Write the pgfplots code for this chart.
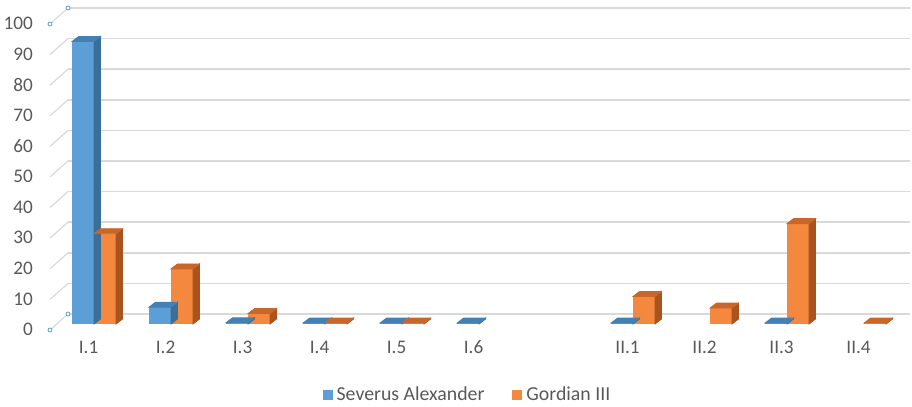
\documentclass[border=0pt]{standalone}
\usepackage{pgfplots}
\usepackage{pgfplotstable}
\pgfplotsset{compat=1.18}
\usepackage{fontspec}
\setmainfont{Carlito}
\definecolor{sa}{HTML}{5B9FD6}
\definecolor{saside}{HTML}{3A6F98}
\definecolor{satop}{HTML}{4380B4}
\definecolor{go}{HTML}{F5883F}
\definecolor{goside}{HTML}{A9541F}
\definecolor{gotop}{HTML}{C9672A}
\definecolor{gridc}{HTML}{D9D9D9}
\definecolor{txt}{HTML}{595959}
\definecolor{handle}{HTML}{5B9BD5}
\pgfplotstableread{
x  v
0  92.3
1  5.5
2  0.4
3  0.3
4  0.3
5  0.3
7  0.3
9  0.3
}\tabSA
\pgfplotstableread{
x  v
0  29.5
1  18
2  3.4
3  0.3
4  0.3
7  9
8  5.2
9  32.8
10 0.3
}\tabGO
% 3D side and top faces, drawn at each data point
\pgfplotsset{
  box3d/.style n args={3}{% #1 left edge of front face (pt), #2 side colour, #3 top colour
    forget plot, only marks, scatter, mark=*, mark size=0pt,
    visualization depends on={\thisrow{v} \as \hv},
    scatter/@pre marker code/.code={%
      \pgfmathsetmacro\hh{\hv*1.53}%
      \fill[#2] (#1+11pt,-\hh pt) -- (#1+14.25pt,-\hh pt+2.5pt) -- (#1+14.25pt,2.5pt) -- (#1+11pt,0pt) -- cycle;
      \fill[#3] (#1,0pt) -- (#1+3.25pt,2.5pt) -- (#1+14.25pt,2.5pt) -- (#1+11pt,0pt) -- cycle;
    },
    scatter/@post marker code/.code={},
  }
}
\begin{document}
\begin{tikzpicture}
\begin{axis}[
  scale only axis,
  width=421pt, height=153pt,
  xmin=-0.455, xmax=10.48,
  ymin=0, ymax=100,
  bar width=11pt,
  axis line style={draw=none},
  major tick length=0pt,
  xtick={0,1,2,3,4,5,7,8,9,10},
  xticklabels={I.1,I.2,I.3,I.4,I.5,I.6,II.1,II.2,II.3,II.4},
  ytick={0,10,...,100},
  ymajorgrids,
  grid style={draw=gridc, line width=0.75pt, xshift=4.5pt, yshift=5pt},
  tick label style={font=\fontsize{9.6}{11}\selectfont, text=txt},
  xticklabel style={xshift=-2.75pt, yshift=-4.5pt, text height=6.5pt, text depth=0pt},
  yticklabel style={xshift=-9.5pt, yshift=-2.75pt},
  /pgf/number format/assume math mode=true,
  clip=false,
  legend style={at={(0.4863,-0.232)}, anchor=center, draw=none, fill=none,
    legend columns=2, font=\fontsize{9.9}{12}\selectfont, text=txt,
    /tikz/every even column/.append style={column sep=12pt}},
  legend image code/.code={\fill[#1] (0pt,-2.5pt) rectangle (5pt,2.5pt);},
]
% left diagonal connectors and handles
\pgfplotsinvokeforeach{0,10,...,100}{
  \draw[gridc, line width=0.6pt] ([shift={(-4.5pt,-3pt)}]axis cs:-0.455,#1) -- ([shift={(4.5pt,5pt)}]axis cs:-0.455,#1);
}
\pgfplotsinvokeforeach{0,100}{
  \draw[handle, line width=0.4pt, fill=white] ([shift={(-4.5pt,-3pt)}]axis cs:-0.455,#1) circle (1pt);
  \draw[handle, line width=0.4pt, fill=white] ([shift={(4.5pt,5pt)}]axis cs:-0.455,#1) circle (1pt);
}
% Severus Alexander
\addplot[ybar, fill=sa, draw=none, bar shift=-5.5pt] table[x=x,y=v] {\tabSA};
\addlegendentry{Severus Alexander}
\addplot[box3d={-11pt}{saside}{satop}] table[x=x,y=v] {\tabSA};
% Gordian III
\addplot[ybar, fill=go, draw=none, bar shift=5.5pt] table[x=x,y=v] {\tabGO};
\addlegendentry{Gordian III}
\addplot[box3d={0pt}{goside}{gotop}] table[x=x,y=v] {\tabGO};
\coordinate (O) at (axis cs:-0.455,0);
\end{axis}
\pgfresetboundingbox
\path ([shift={(-29.5pt,-41.5pt)}]O) rectangle ([shift={(426.5pt,162pt)}]O);
\end{tikzpicture}
\end{document}
